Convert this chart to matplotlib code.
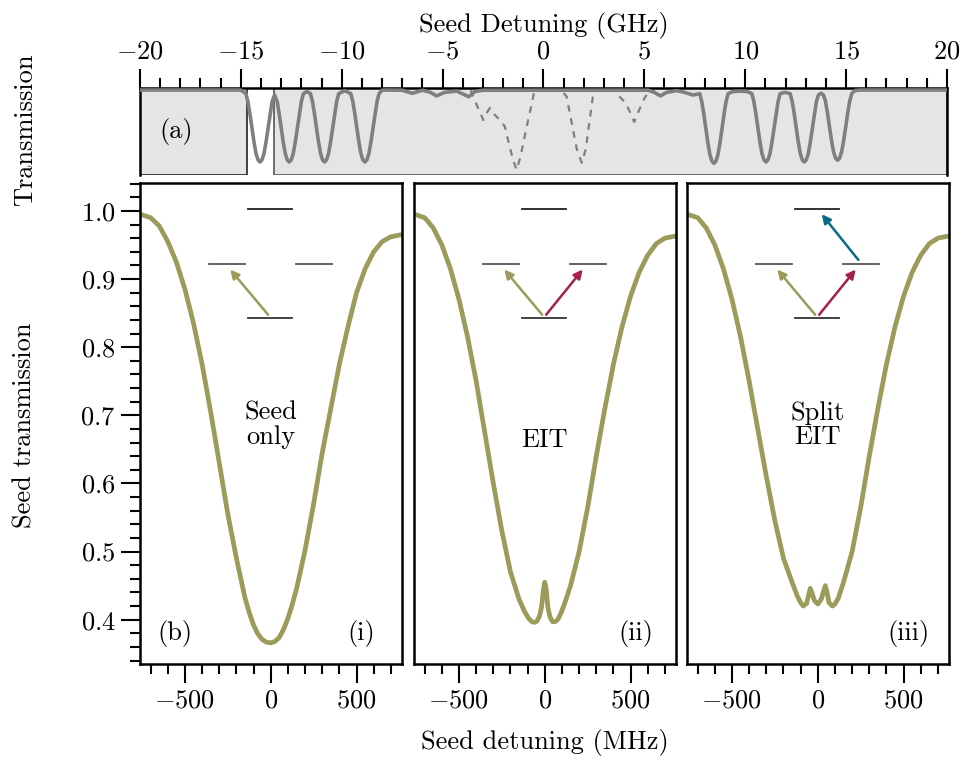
"""
Seed transmission spectra: wide scan (a) and seed-only / EIT / split EIT (b).
"""

import matplotlib
matplotlib.use("Agg")
import matplotlib.pyplot as plt
from matplotlib.ticker import MultipleLocator
from matplotlib.patches import Rectangle

plt.rcParams['font.family'] = 'serif'
plt.rcParams['font.serif'] = ['cmr10']
plt.rcParams['mathtext.fontset'] = 'cm'
plt.rcParams['axes.formatter.use_mathtext'] = True
plt.rcParams['font.size'] = 19

OLIVE = '#9b9b5b'
RED = '#a4214a'
BLUE = '#0b6a86'
GRAY = '#7f7f7f'

# ---- panel (a): wide scan in GHz ----
wide_x = [-20.0, -15.0,
          -14.75, -14.65, -14.55, -14.45, -14.35, -14.25, -14.15, -14.05, -13.95, -13.85,
          -13.75, -13.65, -13.55, -13.45, -13.33,
          -13.2, -13.1, -13.0, -12.9, -12.8, -12.7, -12.6, -12.5, -12.4, -12.3, -12.2,
          -12.1, -12.0, -11.9, -11.72,
          -11.55, -11.45, -11.35, -11.25, -11.15, -11.05, -10.95, -10.85, -10.75, -10.65,
          -10.55, -10.45, -10.35, -10.25, -10.15, -9.85,
          -9.55, -9.45, -9.35, -9.25, -9.15, -9.05, -8.95, -8.85, -8.75, -8.65, -8.55,
          -8.45, -8.35, -8.25, -8.15, -8.0, -7.8,
          -7.0, -6.5, -6.0, -5.6, -5.3, -4.9, -4.3, -3.7, -3.4, -3.0,
          5.2, 5.5, 5.8, 6.1, 6.6, 7.0, 7.4, 7.65,
          7.75, 7.85, 7.95, 8.05, 8.15, 8.25, 8.35, 8.45, 8.55, 8.65, 8.75, 8.85, 8.95,
          9.05, 9.15, 9.4, 9.74, 10.1,
          10.33, 10.43, 10.53, 10.63, 10.73, 10.83, 10.93, 11.03, 11.13, 11.23, 11.33,
          11.43, 11.53, 11.63, 11.73, 11.98,
          12.23, 12.33, 12.43, 12.53, 12.63, 12.73, 12.83, 12.93, 13.03, 13.13, 13.23,
          13.33, 13.43, 13.53, 13.63, 13.755,
          13.88, 13.98, 14.08, 14.18, 14.28, 14.38, 14.48, 14.58, 14.68, 14.78, 14.88,
          14.98, 15.08, 15.18, 15.28, 15.45, 15.7, 20.0]
wide_y = [0.977, 0.977,
          0.936, 0.845, 0.704, 0.539, 0.382, 0.249, 0.175, 0.150, 0.175, 0.249,
          0.382, 0.539, 0.704, 0.845, 0.920,
          0.845, 0.704, 0.539, 0.382, 0.249, 0.175, 0.150, 0.175, 0.249, 0.382, 0.539,
          0.704, 0.845, 0.936, 0.960,
          0.936, 0.845, 0.704, 0.539, 0.382, 0.249, 0.175, 0.150, 0.175, 0.249,
          0.382, 0.539, 0.704, 0.845, 0.936, 0.970,
          0.936, 0.845, 0.704, 0.539, 0.382, 0.249, 0.175, 0.150, 0.175, 0.249, 0.382,
          0.539, 0.704, 0.845, 0.936, 0.975, 0.977,
          0.975, 0.940, 0.975, 0.950, 0.910, 0.950, 0.965, 0.900, 0.960, 0.975,
          0.975, 0.950, 0.910, 0.950, 0.970, 0.950, 0.920, 0.930,
          0.935, 0.842, 0.699, 0.530, 0.370, 0.235, 0.159, 0.134, 0.159, 0.235, 0.370,
          0.530, 0.699, 0.842, 0.935, 0.960, 0.965, 0.960,
          0.936, 0.845, 0.704, 0.539, 0.382, 0.249, 0.175, 0.150, 0.175, 0.249, 0.382,
          0.539, 0.704, 0.845, 0.936, 0.950,
          0.936, 0.845, 0.704, 0.539, 0.382, 0.249, 0.175, 0.150, 0.175, 0.249, 0.382,
          0.539, 0.704, 0.845, 0.920, 0.940,
          0.920, 0.848, 0.711, 0.549, 0.396, 0.267, 0.194, 0.170, 0.194, 0.267, 0.396,
          0.549, 0.711, 0.848, 0.937, 0.972, 0.977, 0.977]

wide_dash_x = [-3.6, -3.49, -3.2, -2.98, -2.8, -2.65, -2.45, -2.32, -2.1, -1.91, -1.7, -1.5,
               -1.33, -1.15, -0.83, -0.58, -0.45, 0.9, 1.15, 1.4, 1.65, 1.9, 2.1, 2.3, 2.45,
               2.6, 3.5, 3.7, 4.1, 4.5, 4.75, 5.0, 5.2, 5.5]
wide_dash_y = [0.975, 0.90, 0.75, 0.632, 0.72, 0.77, 0.70, 0.67, 0.62, 0.555, 0.35, 0.17,
               0.06, 0.20, 0.555, 0.82, 0.97, 0.975, 0.90, 0.60, 0.30, 0.14, 0.30, 0.65, 0.90,
               0.975, 0.975, 0.92, 0.82, 0.61, 0.75, 0.88, 0.95, 0.975]

# ---- panels (i)-(iii): seed transmission vs detuning in MHz ----
seed_only_x = [-760, -700, -650, -600, -550, -500, -450, -400, -350, -300, -250, -200, -150,
               -125, -100, -75, -50, -25, 0, 25, 50, 75, 100, 125, 150, 200, 250, 300, 350,
               400, 450, 500, 550, 600, 650, 700, 760]
seed_only_y = [0.995, 0.99, 0.978, 0.955, 0.925, 0.885, 0.835, 0.775, 0.705, 0.63, 0.555,
               0.49, 0.432, 0.41, 0.392, 0.379, 0.371, 0.367, 0.366, 0.368, 0.374, 0.386,
               0.402, 0.422, 0.445, 0.502, 0.57, 0.645, 0.71, 0.775, 0.83, 0.88, 0.915,
               0.94, 0.955, 0.962, 0.965]

eit_x = [-760, -700, -650, -600, -550, -500, -450, -400, -350, -300, -250, -200, -150,
         -120, -95, -75, -60, -45, -30, -18, -8, 0, 8, 18, 30, 45, 60, 75, 95, 120, 150,
         200, 250, 300, 350, 400, 450, 500, 550, 600, 650, 700, 760]
eit_y = [0.995, 0.99, 0.975, 0.95, 0.915, 0.87, 0.815, 0.75, 0.675, 0.60, 0.53, 0.47, 0.43,
         0.413, 0.402, 0.397, 0.396, 0.398, 0.406, 0.42, 0.445, 0.455, 0.445, 0.418, 0.404,
         0.397, 0.397, 0.400, 0.41, 0.427, 0.45, 0.50, 0.565, 0.64, 0.71, 0.775, 0.83,
         0.875, 0.91, 0.935, 0.952, 0.96, 0.963]

split_x = [-760, -700, -650, -600, -550, -500, -450, -400, -350, -300, -250, -200, -150,
           -120, -100, -85, -65, -52, -44, -35, -20, 0, 20, 35, 44, 52, 65, 85, 100, 120,
           150, 200, 250, 300, 350, 400, 450, 500, 550, 600, 650, 700, 760]
split_y = [0.995, 0.99, 0.975, 0.95, 0.915, 0.87, 0.815, 0.75, 0.68, 0.61, 0.545, 0.49,
           0.455, 0.435, 0.425, 0.42, 0.424, 0.438, 0.446, 0.44, 0.428, 0.423, 0.43, 0.443,
           0.45, 0.442, 0.425, 0.42, 0.423, 0.432, 0.455, 0.50, 0.565, 0.64, 0.71, 0.775,
           0.83, 0.875, 0.91, 0.935, 0.952, 0.96, 0.963]

panel_tags = ['(i)', '(ii)', '(iii)']
panel_notes = ['Seed\nonly', 'EIT', 'Split\nEIT']


def style_ticks(ax):
    ax.tick_params(which='major', length=14, width=1.5, direction='out')
    ax.tick_params(which='minor', length=7, width=1.5, direction='out')
    for sp in ax.spines.values():
        sp.set_linewidth(1.8)


def level_diagram(ax, arrows):
    """Draw the small energy-level sketch and coupling arrows in axes coords."""
    tr = ax.transAxes
    ax.plot([0.414, 0.582], [0.945, 0.945], color='#222222', lw=1.3, transform=tr)
    ax.plot([0.263, 0.400], [0.832, 0.832], color='#555555', lw=1.3, transform=tr)
    ax.plot([0.595, 0.733], [0.832, 0.832], color='#555555', lw=1.3, transform=tr)
    ax.plot([0.414, 0.582], [0.720, 0.720], color='#333333', lw=1.3, transform=tr)
    for start, end, col in arrows:
        ax.annotate('', xy=end, xytext=start, xycoords='axes fraction',
                    textcoords='axes fraction',
                    arrowprops=dict(arrowstyle='-|>', color=col, lw=1.8,
                                    mutation_scale=13, shrinkA=0, shrinkB=0))


fig = plt.figure(figsize=(9.64, 7.61), dpi=100)

# wide scan axis
ax_a = fig.add_axes([0.1452, 0.7700, 0.8371, 0.1143])
ax_a.add_patch(Rectangle((-20, 0), 5.3, 1.0, facecolor='#e5e5e5', edgecolor='#222222',
                         lw=1.2, zorder=0.5))
ax_a.add_patch(Rectangle((-13.35, 0), 33.35, 1.0, facecolor='#e5e5e5', edgecolor='#555555',
                         lw=1.2, zorder=0.5))
ax_a.plot(wide_dash_x, wide_dash_y, color=GRAY, lw=1.6, ls=(0, (3, 3)), zorder=2)
ax_a.plot(wide_x, wide_y, color=GRAY, lw=2.6, zorder=3)
ax_a.set_xlim(-20, 20)
ax_a.set_ylim(0, 1)
ax_a.set_yticks([])
ax_a.xaxis.tick_top()
ax_a.xaxis.set_label_position('top')
ax_a.xaxis.set_major_locator(MultipleLocator(5))
ax_a.xaxis.set_minor_locator(MultipleLocator(1))
style_ticks(ax_a)
ax_a.spines['bottom'].set_visible(False)
ax_a.set_xlabel('Seed Detuning (GHz)', labelpad=6)
ax_a.text(0.045, 0.5, '(a)', transform=ax_a.transAxes, ha='center', va='center')

# three narrow scans
lefts = [0.1452, 0.4295, 0.7127]
curves = [(seed_only_x, seed_only_y), (eit_x, eit_y), (split_x, split_y)]
arrow_sets = [
    [((0.49, 0.726), (0.345, 0.820), OLIVE)],
    [((0.49, 0.726), (0.345, 0.820), OLIVE), ((0.505, 0.726), (0.645, 0.820), RED)],
    [((0.49, 0.726), (0.345, 0.820), OLIVE), ((0.505, 0.726), (0.645, 0.820), RED),
     ((0.655, 0.840), (0.515, 0.935), BLUE)],
]
note_y = [0.497, 0.466, 0.497]

for i, left in enumerate(lefts):
    ax = fig.add_axes([left, 0.1275, 0.2713, 0.6321])
    cx, cy = curves[i]
    ax.plot(cx, cy, color=OLIVE, lw=3.4, solid_capstyle='round', solid_joinstyle='round')
    ax.set_xlim(-762, 762)
    ax.set_ylim(0.335, 1.041)
    ax.xaxis.set_major_locator(MultipleLocator(500))
    ax.xaxis.set_minor_locator(MultipleLocator(100))
    ax.yaxis.set_major_locator(MultipleLocator(0.1))
    ax.yaxis.set_minor_locator(MultipleLocator(0.02))
    style_ticks(ax)
    if i > 0:
        ax.tick_params(axis='y', which='both', left=False, labelleft=False)
    ax.text(0.847, 0.064, panel_tags[i], transform=ax.transAxes, ha='center', va='center')
    ax.text(0.5, note_y[i], panel_notes[i], transform=ax.transAxes, ha='center',
            va='center', linespacing=1.0)
    level_diagram(ax, arrow_sets[i])
    if i == 0:
        ax.text(0.134, 0.064, '(b)', transform=ax.transAxes, ha='center', va='center')
    if i == 1:
        ax.set_xlabel('Seed detuning (MHz)', labelpad=12)

fig.text(0.026, 0.4415, 'Seed transmission', rotation=90, ha='center', va='center')
fig.text(0.026, 0.829, 'Transmission', rotation=90, ha='center', va='center')

fig.savefig('out.png', dpi=100)
